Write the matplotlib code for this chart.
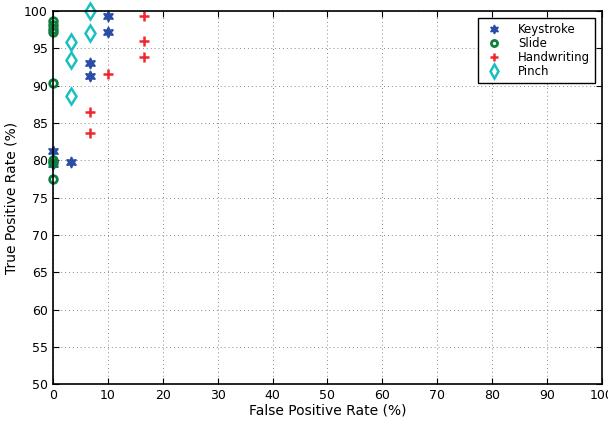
import matplotlib.pyplot as plt

# False positive rate (%) / true positive rate (%)
key_fpr = [0, 0, 3.33, 6.67, 6.67, 10, 10]
key_tpr = [81.3, 79.5, 79.8, 93.1, 91.3, 99.4, 97.2]

slide_fpr = [0, 0, 0, 0, 0, 0, 0, 0]
slide_tpr = [98.6, 98.1, 97.6, 97.2, 90.3, 80.0, 79.6, 77.5]

hand_fpr = [16.67, 16.67, 16.67, 10, 6.67, 6.67]
hand_tpr = [99.4, 96.0, 93.9, 91.5, 86.5, 83.7]

pinch_fpr = [6.67, 6.67, 3.33, 3.33, 3.33]
pinch_tpr = [100.0, 97.1, 95.8, 93.4, 88.6]

fig = plt.figure(figsize=(6.08, 4.24), dpi=100)
ax = fig.add_axes([0.087, 0.094, 0.903, 0.88])

ax.plot(key_fpr, key_tpr, linestyle="none", marker=(6, 1, 0), markersize=8,
        color="#2a4ea6", markeredgecolor="#2a4ea6", label="Keystroke", clip_on=False)
ax.plot(slide_fpr, slide_tpr, linestyle="none", marker="o", markersize=5.5,
        markerfacecolor="none", markeredgecolor="#0e7f3c", markeredgewidth=2,
        label="Slide", clip_on=False)
ax.plot(hand_fpr, hand_tpr, linestyle="none", marker="+", markersize=7,
        markeredgewidth=1.8, color="#f0282e", label="Handwriting", clip_on=False)
ax.plot(pinch_fpr, pinch_tpr, linestyle="none", marker="d", markersize=8.5,
        markerfacecolor="none", markeredgecolor="#1cbfbf", markeredgewidth=1.8,
        label="Pinch", clip_on=False)

ax.set_xlim(0, 100)
ax.set_ylim(50, 100)
ax.set_xticks(range(0, 101, 10))
ax.set_yticks(range(50, 101, 5))
ax.tick_params(direction="in", labelsize=9, top=True, right=True, length=4)
ax.grid(True, linestyle=(0, (1, 3)), color="#888888", linewidth=0.7)
for s in ax.spines.values():
    s.set_linewidth(1.2)

ax.set_xlabel("False Positive Rate (%)", fontsize=10, labelpad=1)
ax.set_ylabel("True Positive Rate (%)", fontsize=10, labelpad=4)

leg = ax.legend(loc="upper right", fontsize=8.5, fancybox=False, edgecolor="black",
                framealpha=1, borderaxespad=0.6, handletextpad=1.0, labelspacing=0.1,
                markerscale=0.8, borderpad=0.4)
leg.get_frame().set_linewidth(1.0)

fig.savefig("out.png", dpi=100)
